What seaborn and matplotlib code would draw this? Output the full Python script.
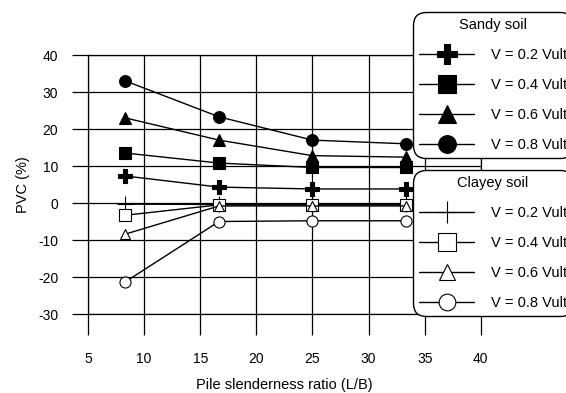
import matplotlib
matplotlib.use("Agg")
import matplotlib.pyplot as plt
import seaborn as sns
import pandas as pd

# Pile slenderness ratio (L/B)
slenderness = [8.33, 16.67, 25.0, 33.33]

# PVC (%) for each vertical load level, sandy soil
sandy_02 = [7.3, 4.3, 3.8, 3.8]
sandy_04 = [13.5, 10.8, 9.6, 9.6]
sandy_06 = [23.0, 17.0, 12.8, 12.4]
sandy_08 = [33.0, 23.3, 17.0, 16.0]

# PVC (%) for each vertical load level, clayey soil
clayey_02 = [-0.3, -0.4, -0.4, -0.4]
clayey_04 = [-3.3, -0.5, -0.5, -0.5]
clayey_06 = [-8.4, -0.8, -0.8, -0.8]
clayey_08 = [-21.3, -5.0, -4.8, -4.8]

load_labels = ["V = 0.2 Vult", "V = 0.4 Vult", "V = 0.6 Vult", "V = 0.8 Vult"]
x_ticks = [5, 10, 15, 20, 25, 30, 35, 40]
y_ticks = [-30, -20, -10, 0, 10, 20, 30, 40]

sns.set_theme(style="white")
plt.rcParams["font.family"] = ["Liberation Sans", "DejaVu Sans"]
plt.rcParams["axes.unicode_minus"] = False
plt.rcParams["text.color"] = "black"
plt.rcParams["legend.labelcolor"] = "black"

fig = plt.figure(figsize=(5.66, 3.93), dpi=100)
ax = fig.add_axes([0.1555, 0.201, 0.694, 0.659])

sandy_series = [sandy_02, sandy_04, sandy_06, sandy_08]
clayey_series = [clayey_02, clayey_04, clayey_06, clayey_08]
sandy_markers = [("P", 9.5), ("s", 9.0), ("^", 8.5), ("o", 8.5)]
clayey_markers = [("+", 11.0), ("s", 8.5), ("^", 7.5), ("o", 8.0)]

sandy_handles = []
for vals, (mk, ms) in zip(sandy_series, sandy_markers):
    df = pd.DataFrame({"x": slenderness, "y": vals})
    sns.lineplot(data=df, x="x", y="y", ax=ax, color="black", lw=1.0,
                 marker=mk, markersize=ms, markerfacecolor="black",
                 markeredgecolor="black", markeredgewidth=0.8, zorder=3)
    sandy_handles.append(ax.lines[-1])

clayey_handles = []
for vals, (mk, ms) in zip(clayey_series, clayey_markers):
    df = pd.DataFrame({"x": slenderness, "y": vals})
    sns.lineplot(data=df, x="x", y="y", ax=ax, color="black", lw=1.0,
                 marker=mk, markersize=ms, markerfacecolor="white",
                 markeredgecolor="black", markeredgewidth=0.8, zorder=3)
    clayey_handles.append(ax.lines[-1])

ax.set_xlim(5, 40)
ax.set_ylim(-30, 40)
ax.set_xticks(x_ticks)
ax.set_yticks(y_ticks)
ax.grid(True, color="black", lw=0.9)
ax.set_axisbelow(True)
for sp in ax.spines.values():
    sp.set_color("black")
    sp.set_linewidth(0.9)
ax.tick_params(axis="x", direction="out", length=15, width=0.9, pad=12,
               labelsize=10, colors="black", bottom=True)
ax.tick_params(axis="y", direction="out", length=11.5, width=0.9, pad=10,
               labelsize=10, colors="black", left=True)
ax.set_xlabel("Pile slenderness ratio (L/B)", fontsize=10.5, color="black", labelpad=9)
ax.set_ylabel("PVC (%)", fontsize=10.5, color="black", labelpad=6)


def make_legend(handles, title, top):
    leg = fig.legend(handles, load_labels, title=title, loc="upper left",
                     bbox_to_anchor=(0.7297, top), bbox_transform=fig.transFigure,
                     borderaxespad=0, fontsize=10.5, title_fontsize=10.5,
                     markerscale=1.5, handlelength=3.8, handletextpad=1.15,
                     labelspacing=1.1, borderpad=0.4, frameon=True,
                     framealpha=1.0, fancybox=True)
    leg.get_title().set_color("black")
    frame = leg.get_frame()
    frame.set_edgecolor("black")
    frame.set_linewidth(1.0)
    frame.set_facecolor("white")
    frame.set_boxstyle("round,pad=0,rounding_size=0.9")
    leg.set_zorder(10)
    return leg


make_legend(sandy_handles, "Sandy soil", 0.9695)
make_legend(clayey_handles, "Clayey soil", 0.567)

fig.savefig("out.png", dpi=100)
